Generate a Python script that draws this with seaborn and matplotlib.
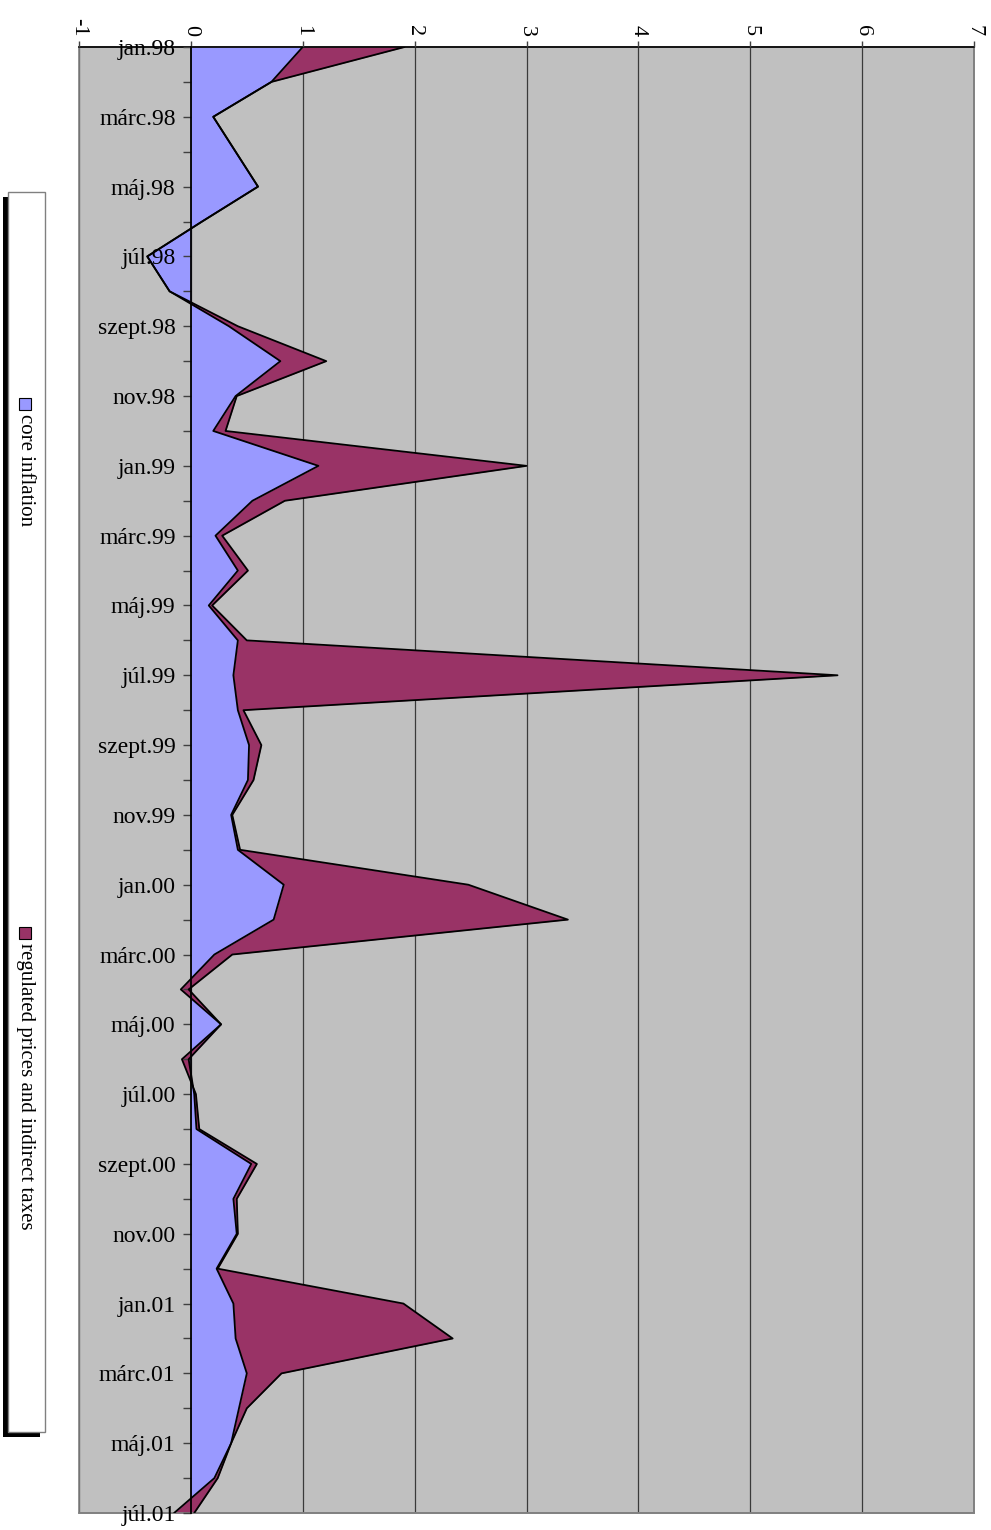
import numpy as np
import pandas as pd
import matplotlib
matplotlib.use("Agg")
import matplotlib.pyplot as plt
from matplotlib.patches import Rectangle
import seaborn as sns

# Monthly labels, Jan 1998 - Jul 2001
months = [
    "jan.98", "febr.98", "márc.98", "ápr.98", "máj.98", "jún.98", "júl.98", "aug.98",
    "szept.98", "okt.98", "nov.98", "dec.98",
    "jan.99", "febr.99", "márc.99", "ápr.99", "máj.99", "jún.99", "júl.99", "aug.99",
    "szept.99", "okt.99", "nov.99", "dec.99",
    "jan.00", "febr.00", "márc.00", "ápr.00", "máj.00", "jún.00", "júl.00", "aug.00",
    "szept.00", "okt.00", "nov.00", "dec.00",
    "jan.01", "febr.01", "márc.01", "ápr.01", "máj.01", "jún.01", "júl.01",
]

# Month-on-month contributions (percentage points)
core_inflation = [
    1.00, 0.72, 0.20, 0.40, 0.60, 0.10, -0.39, -0.19, 0.34, 0.80, 0.40, 0.20,
    1.14, 0.55, 0.22, 0.42, 0.16, 0.42, 0.38, 0.42, 0.52, 0.51, 0.36, 0.42,
    0.83, 0.74, 0.21, -0.09, 0.27, -0.02, 0.03, 0.05, 0.54, 0.38, 0.41, 0.23,
    0.38, 0.40, 0.50, 0.43, 0.36, 0.21, -0.15,
]
regulated_taxes = [
    0.91, 0.00, 0.00, 0.00, 0.00, 0.00, 0.00, 0.00, 0.08, 0.41, 0.01, 0.11,
    1.86, 0.29, 0.06, 0.09, 0.03, 0.08, 5.40, 0.05, 0.11, 0.05, 0.01, 0.02,
    1.65, 2.63, 0.16, 0.07, 0.00, -0.06, 0.015, 0.025, 0.05, 0.03, 0.01, 0.01,
    1.52, 1.94, 0.31, 0.07, 0.00, 0.03, 0.18,
]

series_names = ["core inflation", "regulated prices and indirect taxes"]
value_ticks = [-1, 0, 1, 2, 3, 4, 5, 6, 7]

BLUE = "#9999FF"
MAROON = "#993366"
PLOT_BG = "#C0C0C0"

df = pd.DataFrame({
    "month": months,
    "pos": np.arange(len(months)),
    "core": core_inflation,
    "reg": regulated_taxes,
})
df["total"] = df["core"] + df["reg"]

sns.set_theme(style="white")
plt.rcParams["font.family"] = ["Liberation Serif", "DejaVu Serif"]

W, H = 991, 1530
fig = plt.figure(figsize=(W / 100, H / 100), dpi=100)
fig.patch.set_facecolor("white")

x0, x1, y0, y1 = 79, 974, 47, 1513
ax = fig.add_axes([x0 / W, 1 - y1 / H, (x1 - x0) / W, (y1 - y0) / H])
ax.set_facecolor(PLOT_BG)

# vertical gridlines at each value tick, beneath the areas
for v in value_ticks:
    ax.axvline(v, color="#3a3a3a", lw=0.9, zorder=0.8)

# stacked areas, running down the months
ax.fill_betweenx(df["pos"], 0, df["core"], color=BLUE, lw=0, zorder=1.5)
ax.fill_betweenx(df["pos"], df["core"], df["total"], color=MAROON, lw=0, zorder=1.6)
sns.lineplot(data=df, x="core", y="pos", orient="y", estimator=None,
             color="black", lw=1.3, ax=ax, zorder=4)
sns.lineplot(data=df, x="total", y="pos", orient="y", estimator=None,
             color="black", lw=1.3, ax=ax, zorder=4)

ax.set_xlim(value_ticks[0], value_ticks[-1])
ax.set_ylim(len(months) - 1, 0)
ax.set_xlabel("")
ax.set_ylabel("")
ax.grid(False)

# value axis along the top, labels turned sideways
ax.set_xticks(value_ticks)
ax.set_xticklabels([str(v) for v in value_ticks])
ax.xaxis.set_ticks_position("top")
ax.tick_params(axis="x", top=True, bottom=False, labeltop=True, labelbottom=False,
               labelrotation=-90, length=4.5, width=1, color="#404040",
               direction="out", pad=3, labelsize=16, labelcolor="black")

# category axis sits at zero
ax.set_yticks(df["pos"])
ax.set_yticklabels([m if i % 2 == 0 else "" for i, m in enumerate(months)])
ax.tick_params(axis="y", left=True, right=False, length=6, width=1, color="#404040",
               direction="out", pad=5, labelsize=17, labelcolor="black")
ax.xaxis.set_zorder(3)
ax.yaxis.set_zorder(3)
ax.spines["left"].set_position(("data", 0))
ax.spines["left"].set_color("black")
ax.spines["left"].set_linewidth(1.3)
ax.spines["left"].set_zorder(5)
ax.spines["top"].set_color("black")
ax.spines["top"].set_linewidth(1.2)
for s in ("right", "bottom"):
    ax.spines[s].set_color("#808080")
    ax.spines[s].set_linewidth(1.2)
ax.add_patch(Rectangle((0, 0), 1, 1, transform=ax.transAxes, fill=False,
                       edgecolor="#808080", lw=1.2, zorder=1, clip_on=False))

# legend panel on the left, with drop shadow
def fx(px):
    return px / W

def fy(py):
    return 1 - py / H

bx0, bx1, by0, by1 = 8, 45, 192, 1432
fig.patches.append(Rectangle((fx(bx0 - 5), fy(by1 + 5)), fx(bx1 - bx0), (by1 - by0) / H,
                             transform=fig.transFigure, facecolor="black",
                             edgecolor="none", zorder=1))
fig.patches.append(Rectangle((fx(bx0), fy(by1)), fx(bx1 - bx0), (by1 - by0) / H,
                             transform=fig.transFigure, facecolor="white",
                             edgecolor="#808080", lw=1, zorder=2))

legend_rows = [(398, BLUE), (927, MAROON)]
for (top, col), name in zip(legend_rows, series_names):
    fig.patches.append(Rectangle((fx(19), fy(top + 12)), fx(12), 12 / H,
                                 transform=fig.transFigure, facecolor=col,
                                 edgecolor="black", lw=0.8, zorder=3))
    fig.text(fx(25), fy(top + 16), name, rotation=-90, ha="center", va="top",
             fontsize=15, color="black", zorder=4)

fig.savefig("out.png", dpi=100, facecolor="white")
